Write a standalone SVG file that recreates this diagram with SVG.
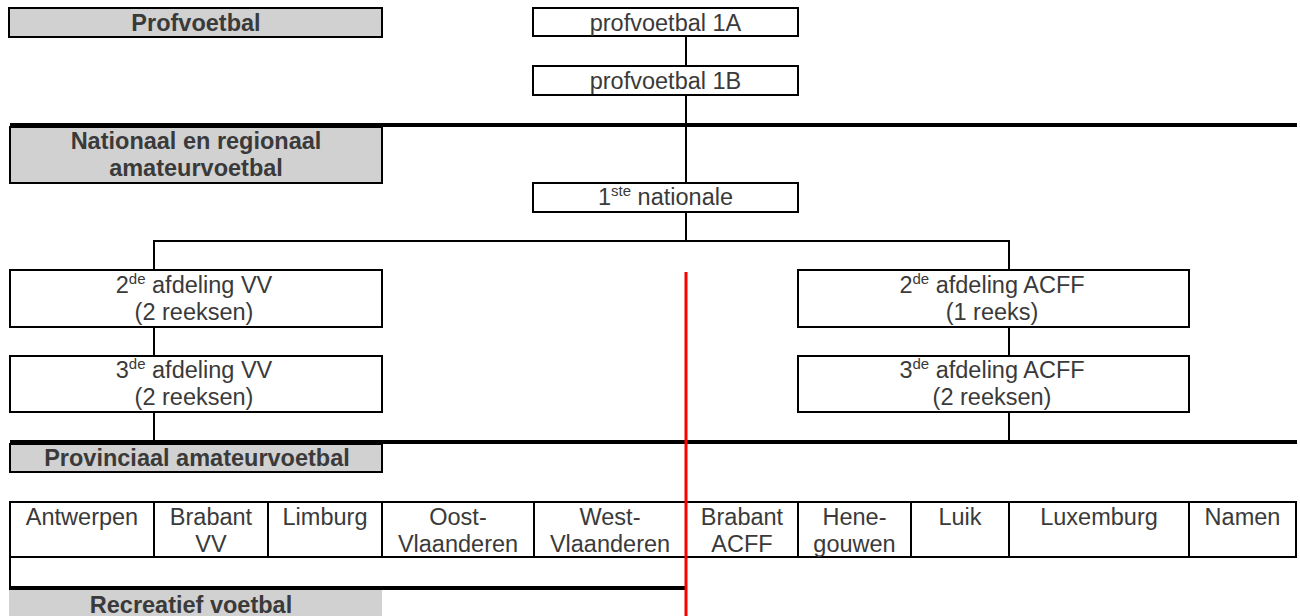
<svg xmlns="http://www.w3.org/2000/svg" width="1300" height="616" viewBox="0 0 1300 616">
<style>
.t{font-family:"Liberation Sans",Arial,sans-serif;font-size:23.5px;fill:#3a3a3a;text-anchor:middle}
.b{font-weight:bold}
.sup{font-size:15px}
.box{fill:#fff;stroke:#000;stroke-width:2}
.hdr{fill:#d1d1d1;stroke:#000;stroke-width:2}
.ln{stroke:#000;stroke-width:2;fill:none}
.thick{stroke:#000;stroke-width:4;fill:none}
</style>
<rect width="1300" height="616" fill="#fff"/>
<g id="connectors">
<line class="ln" x1="686" y1="36" x2="686" y2="183"/>
<line class="ln" x1="686" y1="212" x2="686" y2="241"/>
<polyline class="ln" points="154,270 154,241 1009,241 1009,270"/>
<line class="ln" x1="154" y1="327" x2="154" y2="442"/>
<line class="ln" x1="1009" y1="327" x2="1009" y2="442"/>
<line class="thick" x1="10" y1="125" x2="1297" y2="125"/>
<line class="thick" x1="10" y1="442" x2="1297" y2="442"/>
</g>
<g id="profvoetbal-hdr"><rect class="hdr" x="9" y="8" width="373" height="29"/><text class="t b" x="196" y="31">Profvoetbal</text></g>
<g id="pv1a"><rect class="box" x="533" y="8" width="265" height="28"/><text class="t" x="665.5" y="31">profvoetbal 1A</text></g>
<g id="pv1b"><rect class="box" x="533" y="66" width="265" height="29"/><text class="t" x="665.5" y="89">profvoetbal 1B</text></g>
<g id="nationaal-hdr"><rect class="hdr" x="10" y="127" width="372" height="56"/><text class="t b" x="196" y="149">Nationaal en regionaal</text><text class="t b" x="196" y="176">amateurvoetbal</text></g>
<g id="nat1"><rect class="box" x="533" y="183" width="265" height="29"/><text class="t" x="665.5" y="205">1<tspan class="sup" dy="-9">ste</tspan><tspan dy="9"> nationale</tspan></text></g>
<g id="vv2"><rect class="box" x="10" y="270" width="372" height="57"/><text class="t" x="194" y="293">2<tspan class="sup" dy="-9">de</tspan><tspan dy="9"> afdeling VV</tspan></text><text class="t" x="194" y="320">(2 reeksen)</text></g>
<g id="vv3"><rect class="box" x="10" y="356" width="372" height="56"/><text class="t" x="194" y="378">3<tspan class="sup" dy="-9">de</tspan><tspan dy="9"> afdeling VV</tspan></text><text class="t" x="194" y="405">(2 reeksen)</text></g>
<g id="acff2"><rect class="box" x="798" y="270" width="391" height="57"/><text class="t" x="992" y="293">2<tspan class="sup" dy="-9">de</tspan><tspan dy="9"> afdeling ACFF</tspan></text><text class="t" x="992" y="320">(1 reeks)</text></g>
<g id="acff3"><rect class="box" x="798" y="356" width="391" height="56"/><text class="t" x="992" y="378">3<tspan class="sup" dy="-9">de</tspan><tspan dy="9"> afdeling ACFF</tspan></text><text class="t" x="992" y="405">(2 reeksen)</text></g>
<g id="provinciaal-hdr"><rect class="hdr" x="10" y="444" width="372" height="28"/><text class="t b" x="197" y="466">Provinciaal amateurvoetbal</text></g>
<g id="provincies">
<rect class="box" x="10" y="502" width="1286" height="55"/>
<g class="ln">
<line x1="154" y1="502" x2="154" y2="557"/><line x1="268" y1="502" x2="268" y2="557"/><line x1="382" y1="502" x2="382" y2="557"/><line x1="534" y1="502" x2="534" y2="557"/><line x1="686" y1="502" x2="686" y2="557"/><line x1="798" y1="502" x2="798" y2="557"/><line x1="911" y1="502" x2="911" y2="557"/><line x1="1009" y1="502" x2="1009" y2="557"/><line x1="1189" y1="502" x2="1189" y2="557"/>
</g>
<text class="t" x="82" y="525">Antwerpen</text>
<text class="t" x="211" y="525">Brabant</text><text class="t" x="211" y="552">VV</text>
<text class="t" x="325" y="525">Limburg</text>
<text class="t" x="458" y="525">Oost-</text><text class="t" x="458" y="552">Vlaanderen</text>
<text class="t" x="610" y="525">West-</text><text class="t" x="610" y="552">Vlaanderen</text>
<text class="t" x="742" y="525">Brabant</text><text class="t" x="742" y="552">ACFF</text>
<text class="t" x="854.5" y="525">Hene-</text><text class="t" x="854.5" y="552">gouwen</text>
<text class="t" x="960" y="525">Luik</text>
<text class="t" x="1099" y="525">Luxemburg</text>
<text class="t" x="1242.5" y="525">Namen</text>
</g>
<g id="recreatief-row"><line class="ln" x1="10" y1="557" x2="10" y2="588"/><line class="thick" x1="9" y1="588" x2="686" y2="588"/></g>
<g id="recreatief-hdr"><rect x="9" y="590" width="373" height="30" fill="#d1d1d1"/><text class="t b" x="191" y="613">Recreatief voetbal</text></g>
<g id="divider"><line x1="686" y1="272" x2="686" y2="616" stroke="#ff0000" stroke-width="3"/></g>
</svg>
